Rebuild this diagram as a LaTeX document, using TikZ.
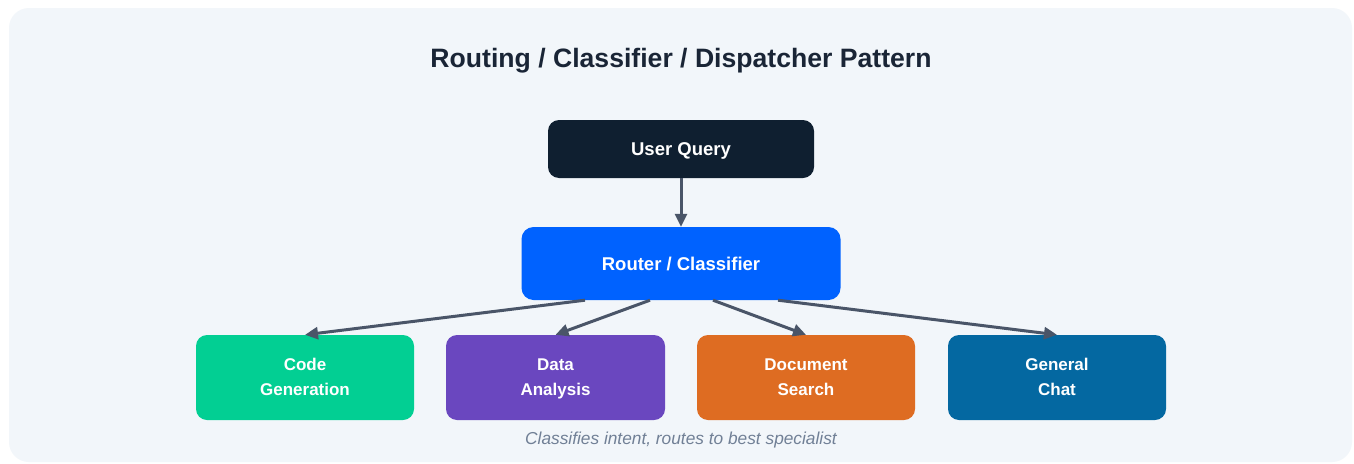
\documentclass[tikz,border=0pt]{standalone}
\usepackage{fontspec}
\setmainfont{Liberation Sans}
\usetikzlibrary{arrows.meta}
\definecolor{panel}{HTML}{F2F6FA}
\definecolor{titlec}{HTML}{1A2536}
\definecolor{navy}{HTML}{0F1F30}
\definecolor{routerc}{HTML}{0062FF}
\definecolor{greenc}{HTML}{02CF93}
\definecolor{purplec}{HTML}{6A47BF}
\definecolor{orangec}{HTML}{DE6C22}
\definecolor{bluec}{HTML}{0468A1}
\definecolor{linkc}{HTML}{4A5568}
\definecolor{notec}{HTML}{718096}
\newcommand{\lowerby}[2]{\raisebox{-#1}[\height][\depth]{#2}}
\tikzset{
  x=1pt, y=-1pt,
  box/.style={rounded corners=11pt, inner sep=0pt, text=white,
    font=\fontsize{17}{25}\selectfont\bfseries, align=center},
  bigbox/.style={box, font=\fontsize{18.5}{25}\selectfont\bfseries},
  link/.style={draw=linkc, line width=3pt,
    -{Triangle[length=13pt,width=12pt]}}
}
\begin{document}
\begin{tikzpicture}
\useasboundingbox (0,0) rectangle (1354,463);
\fill[white] (0,0) rectangle (1354,463);
\fill[panel, rounded corners=20pt] (9,8) rectangle (1352,462);

\node[font=\fontsize{26.6}{32}\selectfont\bfseries, text=titlec] (title) at (681,61) {Routing / Classifier / Dispatcher Pattern};

\node[bigbox, fill=navy, minimum width=266pt, minimum height=58pt] (query) at (681,149) {\lowerby{2pt}{User Query}};
\node[bigbox, fill=routerc, rounded corners=12pt, minimum width=319pt, minimum height=73pt] (router) at (681,263.5) {Router / Classifier};

\node[box, fill=greenc, minimum width=218pt, minimum height=85pt] (code) at (305,377.5) {\raisebox{1pt}{Code}\\\raisebox{1pt}{Generation}};
\node[box, fill=purplec, minimum width=219pt, minimum height=85pt] (data) at (555.5,377.5) {\lowerby{1pt}{Data}\\\lowerby{1pt}{Analysis}};
\node[box, fill=orangec, minimum width=218pt, minimum height=85pt] (doc) at (806,377.5) {Document\\Search};
\node[box, fill=bluec, minimum width=218pt, minimum height=85pt] (chat) at (1057,377.5) {\raisebox{1pt}{General}\\\raisebox{1pt}{Chat}};

\draw[link] (query.south) -- (router.north);
\draw[link] ([xshift=-96pt]router.south) -- (code.north);
\draw[link] ([xshift=-31pt]router.south) -- (data.north);
\draw[link] ([xshift=32pt]router.south) -- (doc.north);
\draw[link] ([xshift=97pt]router.south) -- (chat.north);

\node[font=\fontsize{17.3}{20}\selectfont\itshape, text=notec] (note) at (681,440) {Classifies intent, routes to best specialist};
\end{tikzpicture}
\end{document}
